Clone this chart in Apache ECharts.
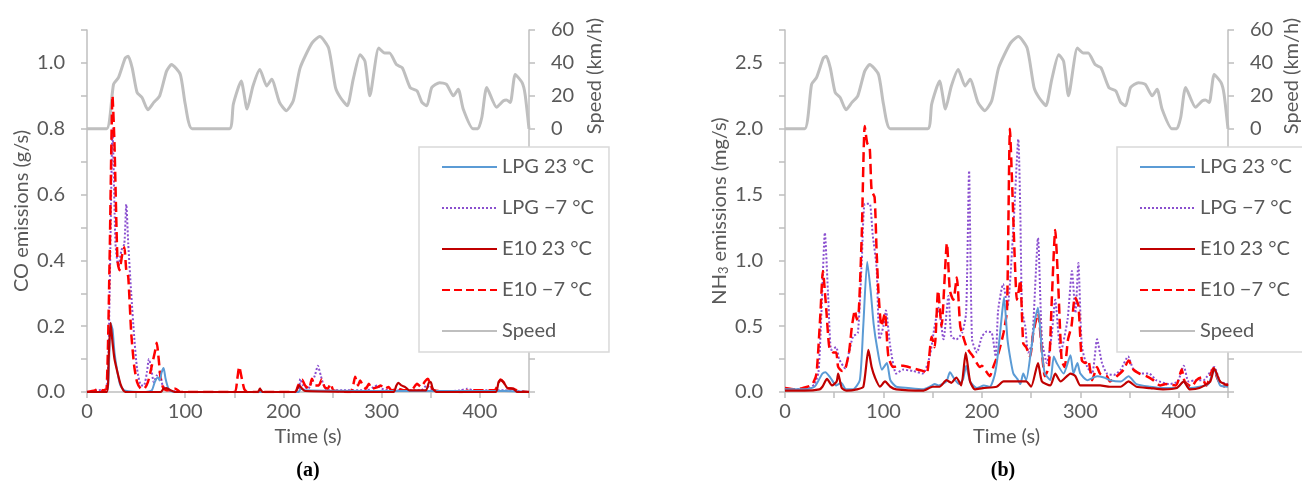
<!DOCTYPE html>
<html>
<head>
<meta charset="utf-8">
<script src="https://cdn.jsdelivr.net/npm/echarts@6/dist/echarts.min.js"></script>
<style>
  html, body { margin: 0; padding: 0; background: #fff; }
  #main { width: 1302px; height: 490px; }
</style>
</head>
<body>
<div id="main"></div>
<script>
// 图例名称
var names = ['LPG 23 °C', 'LPG \u22127 °C', 'E10 23 °C', 'E10 \u22127 °C', 'Speed'];

// 车速 [时间 s, km/h]，两张图共用
var speed = [[0,0],[20,0],[27,27],[32,31],[39,43],[42,44],[46,37],[51,22],[56,19],[62,11.5],[68,16],[74,20],[81,35],[86,39],[95,33],[100,15],[107,0],[145,0],[149,15],[157,29],[163,12],[169,26],[176,36],[183,26],[188,30],[196,16],[203,11],[210,17],[217,37],[229,52],[237,56],[246,49],[253,25],[258,19],[265,14],[271,30],[278,45],[283,41],[288,20],[297,49],[303,46],[308,46],[315,39],[321,37],[329,25],[336,23],[341,16],[346,14],[351,25],[359,28],[366,27],[373,20],[378,24],[383,12],[393,0],[398,0],[402,7],[407,25],[417,13],[424,17],[427,17.5],[431,16],[436,33],[443,28],[446,21],[450,0]];

// (a) CO 排放 g/s
var coLpg23 = [[0,0],[20,0],[22,0.05],[24,0.21],[26,0.19],[28,0.12],[31,0.06],[34,0.02],[38,0.005],[60,0],[66,0.005],[69,0.03],[72,0.045],[74,0.035],[76,0.06],[78,0.073],[80,0.04],[83,0.01],[88,0],[215,0],[218,0.01],[222,0.005],[300,0.003],[425,0.003],[450,0]];
var coLpgM7 = [[0,0],[10,0.005],[20,0.01],[23,0.3],[26,0.8],[29,0.45],[32,0.38],[35,0.43],[38,0.45],[40,0.57],[42,0.45],[45,0.3],[48,0.17],[51,0.07],[55,0.02],[58,0.02],[61,0.06],[63,0.1],[65,0.08],[68,0.03],[71,0.05],[74,0.06],[77,0.02],[82,0.005],[100,0],[215,0],[217,0.04],[220,0.02],[225,0.01],[229,0.03],[232,0.05],[235,0.08],[238,0.05],[241,0.02],[245,0.005],[260,0.005],[285,0.005],[292,0.015],[296,0.02],[300,0.01],[310,0.005],[340,0.005],[346,0.02],[350,0.01],[360,0],[380,0.005],[387,0.01],[393,0.005],[425,0.005],[450,0]];
var coE1023 = [[0,0],[20,0],[22,0.1],[24,0.21],[26,0.15],[28,0.1],[31,0.06],[34,0.025],[37,0.005],[40,0],[75,0],[78,0.01],[81,0.012],[85,0.005],[90,0],[174,0],[176,0.01],[179,0],[212,0],[216,0.02],[219,0.01],[222,0.003],[312,0],[315,0.02],[317,0.028],[320,0.02],[324,0.015],[328,0.005],[345,0.005],[348,0.028],[350,0.03],[352,0.01],[356,0],[416,0],[419,0.03],[421,0.036],[424,0.03],[428,0.012],[434,0.01],[438,0],[450,0]];
var coE10M7 = [[0,0],[8,0.005],[12,0.01],[16,0.005],[20,0.01],[23,0.4],[26,0.9],[28,0.75],[31,0.4],[33,0.37],[36,0.42],[38,0.44],[40,0.37],[42,0.35],[45,0.18],[48,0.08],[51,0.03],[55,0.01],[58,0.01],[62,0.03],[66,0.08],[69,0.12],[71,0.15],[73,0.1],[75,0.04],[78,0.01],[82,0.005],[90,0.01],[95,0],[150,0],[153,0.04],[155,0.077],[157,0.05],[160,0.01],[163,0],[175,0],[177,0.01],[180,0],[212,0],[215,0.02],[219,0.037],[222,0.02],[226,0.01],[229,0.04],[232,0.02],[236,0.02],[239,0.038],[242,0.015],[245,0.01],[248,0.025],[251,0.005],[268,0],[271,0.02],[273,0.046],[276,0.02],[278,0.035],[281,0.02],[284,0.01],[287,0.025],[290,0.01],[296,0.015],[299,0.02],[303,0.01],[307,0.015],[310,0.005],[317,0.01],[322,0.005],[330,0.005],[336,0.025],[340,0.015],[344,0.032],[347,0.04],[350,0.02],[353,0.005],[380,0],[390,0.005],[415,0.005],[418,0.02],[421,0.038],[424,0.03],[428,0.012],[434,0.01],[438,0.005],[450,0]];

// (b) NH3 排放 mg/s
var nhLpg23 = [[0,0.02],[20,0.02],[30,0.04],[35,0.1],[38,0.14],[41,0.15],[46,0.11],[52,0.05],[57,0.07],[62,0.02],[69,0.02],[76,0.09],[79.5,0.5],[83.5,0.99],[87,0.77],[90,0.52],[93.5,0.34],[98.5,0.17],[103.5,0.22],[107,0.09],[113,0.04],[125,0.03],[140,0.02],[147,0.04],[152,0.06],[156,0.05],[164,0.08],[167.5,0.15],[172,0.1],[177,0.06],[181,0.1],[184,0.2],[188,0.08],[195,0.03],[202,0.05],[208,0.04],[213,0.13],[216,0.27],[220.8,0.62],[222.5,0.72],[226,0.4],[229,0.25],[232,0.14],[236,0.1],[239,0.06],[242,0.14],[245,0.09],[250,0.32],[254,0.55],[257,0.64],[261,0.3],[264,0.14],[269.5,0.09],[273,0.27],[276,0.22],[283,0.14],[290,0.28],[293,0.14],[297,0.22],[300,0.14],[307,0.09],[317,0.12],[324,0.11],[330,0.09],[341,0.08],[349,0.12],[357,0.06],[371,0.04],[384,0.03],[398,0.03],[405,0.08],[411,0.03],[421,0.04],[430,0.06],[436,0.17],[442,0.05],[450,0.04]];
var nhLpgM7 = [[0,0.02],[15,0.02],[25,0.03],[30,0.06],[34,0.15],[37,0.6],[40.5,1.21],[44,0.7],[47,0.32],[52,0.34],[55,0.25],[61,0.18],[65,0.3],[69,0.42],[74,0.45],[78,1.0],[81,1.43],[86,1.43],[89,1.2],[93,0.95],[96,0.4],[100,0.5],[102.5,0.62],[107,0.34],[113,0.14],[120,0.17],[130,0.16],[140,0.14],[147,0.27],[152,0.5],[156,0.64],[161,0.4],[166,0.73],[169,0.42],[174,0.4],[180,0.45],[184,0.6],[187,1.68],[190,0.4],[195,0.3],[200,0.42],[205,0.46],[210,0.45],[214,0.27],[216.5,0.62],[221.5,0.82],[226,0.65],[232,1.25],[237,1.92],[239,1.38],[240.8,0.62],[244,0.5],[247,0.3],[251,0.37],[257,1.17],[261,0.4],[266,0.22],[271,0.44],[274.5,0.7],[280,0.3],[287,0.55],[291.5,0.92],[295,0.6],[298,0.98],[301.5,0.35],[307,0.19],[312,0.14],[317,0.4],[322,0.22],[327,0.14],[334,0.13],[341,0.17],[348.5,0.27],[354,0.17],[362,0.14],[370,0.14],[377,0.09],[390,0.06],[399,0.08],[405,0.2],[410,0.08],[418,0.09],[425,0.09],[436,0.19],[442,0.08],[450,0.06]];
var nhE1023 = [[0,0.01],[20,0.01],[35,0.02],[38,0.04],[42.7,0.1],[47.7,0.05],[52.5,0.08],[54,0.14],[57.7,0.03],[62.7,0.01],[73,0.02],[79.6,0.04],[84.7,0.32],[88,0.19],[91.4,0.11],[96.5,0.04],[101.6,0.08],[107,0.04],[113,0.02],[140,0.01],[150,0.04],[157,0.04],[164,0.09],[169,0.07],[174,0.11],[179,0.05],[183.6,0.3],[188,0.08],[193,0.02],[201,0.03],[215,0.04],[222,0.08],[229,0.08],[236,0.08],[245,0.08],[250,0.04],[257,0.22],[261,0.08],[269.5,0.05],[274.5,0.14],[280,0.08],[290,0.14],[295,0.12],[300,0.05],[310,0.05],[320,0.05],[330,0.04],[341,0.04],[349,0.08],[357,0.04],[371,0.03],[384,0.02],[398,0.03],[405,0.08],[411,0.02],[421,0.03],[432,0.08],[436,0.18],[442,0.08],[450,0.05]];
var nhE10M7 = [[0,0.03],[10,0.02],[18,0.03],[23,0.04],[28,0.06],[32,0.14],[36,0.6],[38.5,0.92],[42,0.62],[45,0.34],[49,0.3],[52,0.3],[54,0.19],[58,0.16],[61,0.17],[65,0.3],[68,0.5],[71,0.62],[73,0.55],[75,0.62],[78,1.2],[81,2.02],[83.5,1.89],[86,1.86],[88,1.53],[91,1.48],[93,1.08],[95,0.75],[98,0.5],[101.5,0.6],[105,0.27],[110,0.19],[120,0.2],[130,0.18],[140,0.16],[144,0.14],[149,0.42],[152,0.34],[155.5,0.77],[159,0.5],[164.5,1.13],[167.5,0.77],[171,0.7],[174.5,0.87],[178,0.5],[181,0.42],[184.5,0.34],[188,0.3],[191,0.27],[198,0.19],[200,0.2],[204,0.16],[208,0.12],[212,0.2],[217,0.3],[222,0.45],[225.5,0.62],[228.5,2.0],[230.5,1.63],[232,1.3],[233.7,0.95],[235.5,0.7],[237,0.75],[239,0.85],[242,0.37],[245,0.34],[249,0.27],[252,0.44],[257,0.6],[261,0.3],[264,0.12],[268,0.19],[271,0.7],[274.5,1.23],[277.5,0.82],[281,0.24],[284,0.19],[287.5,0.4],[291,0.5],[294.5,0.72],[298,0.66],[301.5,0.24],[305,0.22],[308,0.24],[312,0.09],[317,0.19],[320,0.14],[327,0.12],[330,0.08],[337,0.12],[344,0.17],[349,0.24],[354,0.17],[360,0.14],[367,0.12],[374,0.09],[381,0.05],[387,0.06],[397,0.05],[403,0.17],[406,0.08],[413,0.04],[418,0.09],[423,0.11],[428,0.05],[435,0.18],[440,0.09],[445,0.04],[450,0.06]];

var FONT = 'Lato';
var TXT = '#595959';
var AX = '#BFBFBF';

function xAxisCfg(grid) {
    return {
        type: 'value', gridIndex: grid, min: 0, max: 450, interval: 50,
        name: 'Time (s)', nameLocation: 'middle', nameGap: 32,
        nameTextStyle: { fontFamily: FONT, fontSize: 20, color: TXT },
        axisLine: { lineStyle: { color: AX, width: 1.5 } },
        axisTick: { length: 6, lineStyle: { color: AX, width: 1.5 } },
        axisLabel: {
            fontFamily: FONT, fontSize: 20, color: TXT, margin: 10,
            formatter: function (v) { return v % 100 === 0 ? String(v) : ''; }
        },
        splitLine: { show: false }
    };
}

function speedAxisCfg(grid) {
    return {
        type: 'value', gridIndex: grid, position: 'right', min: -160, max: 60, interval: 20,
        axisLine: { show: true, lineStyle: { color: AX, width: 1.5 } },
        axisTick: { show: true, length: 6, lineStyle: { color: AX, width: 1.5 } },
        axisLabel: {
            fontFamily: FONT, fontSize: 20, color: TXT, margin: 22,
            formatter: function (v) { return v >= 0 ? String(v) : ''; }
        },
        splitLine: { show: false }
    };
}

function emisAxisCfg(grid, max, step, name, gap, fmt) {
    return {
        type: 'value', gridIndex: grid, position: 'left', min: 0, max: max, interval: step,
        name: name, nameLocation: 'middle', nameGap: gap,
        nameTextStyle: {
            fontFamily: FONT, fontSize: 20, color: TXT,
            rich: {
                a: { fontFamily: FONT, fontSize: 20, color: TXT },
                s: { fontFamily: FONT, fontSize: 13, color: TXT, verticalAlign: 'bottom', padding: [8, 0, 0, 0] }
            }
        },
        axisLine: { show: true, lineStyle: { color: AX, width: 1.5 } },
        axisTick: { show: true, length: 6, lineStyle: { color: AX, width: 1.5 } },
        axisLabel: { fontFamily: FONT, fontSize: 20, color: TXT, margin: 22, formatter: fmt },
        splitLine: { show: false }
    };
}

function lineSeries(name, data, xi, yi, color, width, type) {
    return {
        name: name, type: 'line', xAxisIndex: xi, yAxisIndex: yi,
        data: data, showSymbol: false, symbol: 'none', smooth: 0.2,
        lineStyle: { color: color, width: width, type: type },
        itemStyle: { color: color },
        animation: false
    };
}

function chartSeries(xi, yi, ys, d1, d2, d3, d4) {
    return [
        lineSeries(names[4], speed, xi, ys, '#BFBFBF', 3, 'solid'),
        lineSeries(names[1], d2, xi, yi, '#8A4FCF', 2, 'dotted'),
        lineSeries(names[3], d4, xi, yi, '#FF0000', 2.5, 'dashed'),
        lineSeries(names[0], d1, xi, yi, '#5B9BD5', 2, 'solid'),
        lineSeries(names[2], d3, xi, yi, '#C00000', 2.2, 'solid')
    ];
}

function legendCfg(left) {
    return {
        data: names, orient: 'vertical', left: left, top: 147,
        itemWidth: 55, itemHeight: 14, itemGap: 21,
        padding: [10, 15, 11, 22],
        itemStyle: { opacity: 0 },
        backgroundColor: '#fff', borderColor: '#D9D9D9', borderWidth: 1.5, borderRadius: 0,
        textStyle: { fontFamily: FONT, fontSize: 20, color: TXT, lineHeight: 20 },
        selectedMode: false
    };
}

var chart = echarts.init(document.getElementById('main'));
chart.setOption({
    backgroundColor: '#fff',
    animation: false,
    grid: [
        { left: 87, top: 30, width: 442, height: 362 },
        { left: 785, top: 30, width: 443, height: 362 }
    ],
    xAxis: [xAxisCfg(0), xAxisCfg(1)],
    yAxis: [
        emisAxisCfg(0, 1.1, 0.1, 'CO emissions (g/s)', 55,
            function (v) { return Math.round(v * 10) % 2 === 0 ? v.toFixed(1) : ''; }),
        speedAxisCfg(0),
        emisAxisCfg(1, 2.75, 0.25, '{a|NH}{s|3}{a| emissions (mg/s)}', 55,
            function (v) { return Math.round(v * 4) % 2 === 0 ? v.toFixed(1) : ''; }),
        speedAxisCfg(1)
    ],
    legend: [legendCfg(419), legendCfg(1117)],
    series: chartSeries(0, 0, 1, coLpg23, coLpgM7, coE1023, coE10M7)
        .concat(chartSeries(1, 2, 3, nhLpg23, nhLpgM7, nhE1023, nhE10M7)),
    graphic: [
        { type: 'text', x: 595, y: 76, rotation: Math.PI / 2,
          style: { text: 'Speed (km/h)', fontFamily: FONT, fontSize: 20, fill: TXT, align: 'center', verticalAlign: 'middle' } },
        { type: 'text', x: 1292, y: 76, rotation: Math.PI / 2,
          style: { text: 'Speed (km/h)', fontFamily: FONT, fontSize: 20, fill: TXT, align: 'center', verticalAlign: 'middle' } },
        { type: 'text', x: 308, y: 471,
          style: { text: '(a)', fontFamily: 'Liberation Serif', fontWeight: 'bold', fontSize: 20, fill: '#000', align: 'center', verticalAlign: 'middle' } },
        { type: 'text', x: 1003, y: 471,
          style: { text: '(b)', fontFamily: 'Liberation Serif', fontWeight: 'bold', fontSize: 20, fill: '#000', align: 'center', verticalAlign: 'middle' } }
    ]
});
</script>
</body>
</html>
